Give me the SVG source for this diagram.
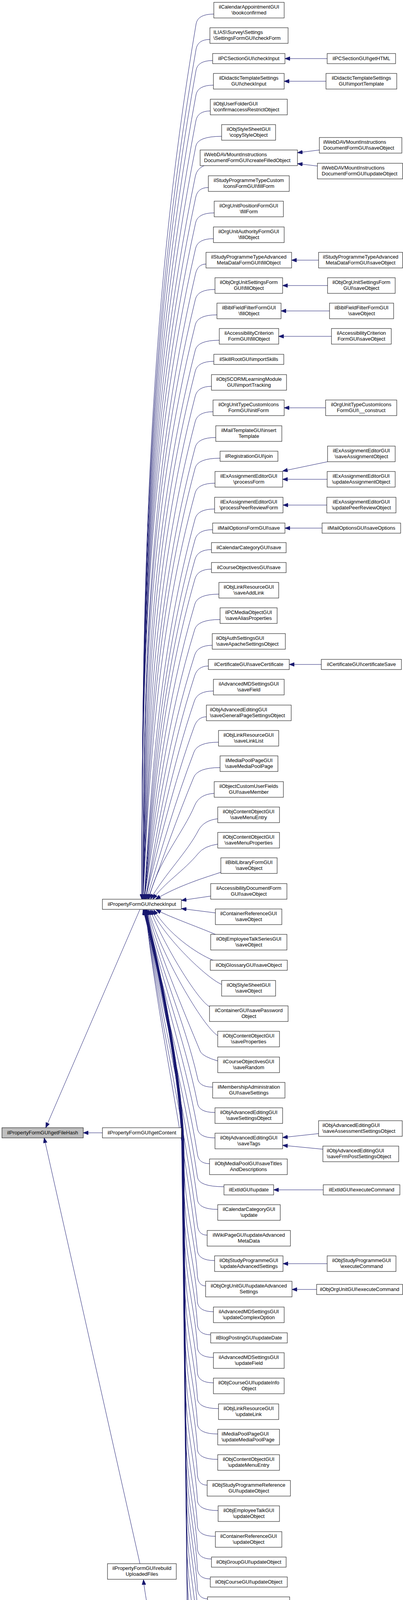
<svg xmlns="http://www.w3.org/2000/svg" width="1031" height="4615" viewBox="0 0 1031 4615">
<style>
.n rect{fill:#fff;stroke:#000;stroke-width:1}
.n text{font-family:"Liberation Sans",Arial,Helvetica,sans-serif;font-size:13px;fill:#000}
.n text.c{text-anchor:middle}
#edges path{fill:none;stroke:#191970;stroke-width:1;marker-end:url(#ah)}
</style>
<defs>
<marker id="ah" markerUnits="userSpaceOnUse" markerWidth="13" markerHeight="10" viewBox="0 0 13 10" refX="13" refY="5" orient="auto"><path d="M0,0 L13,5 L0,10 z" fill="#191970" stroke="#191970" stroke-width="1"/></marker>
</defs>
<rect x="0" y="0" width="1031" height="4615" fill="#fff"/>
<g id="edges">
<path d="M262,2900 L213,2900"/>
<path d="M358,2328 L117,2887"/>
<path d="M358,4003 L113,2913"/>
<path d="M568,4582 C515,4562 450,4440 420,4320 C405,4250 372,4100 367,4044"/>
<path d="M547,36 Q506,36 501.7,61 C374.4,808 363,1556 363,2302"/>
<path d="M537,101 Q506,101 501.6,126 C374.3,851.7 363,1577.3 363,2302"/>
<path d="M544,155 Q506,155 501.5,180 C374.2,887.7 363,1595.3 363,2302"/>
<path d="M546,218 Q506,218 501.4,243 C374.1,929.7 363,1616.3 363,2302"/>
<path d="M538,284 Q506,284 501.2,309 C373.9,973.7 363,1638.3 363,2302"/>
<path d="M567,349 Q506,349 501,374 C373.7,1017 363,1660 363,2302"/>
<path d="M522,424 Q504,432 500,450 C372.7,1067.7 363,1685.3 363,2302"/>
<path d="M533,480 Q506,480 500.7,505 C373.4,1104.3 363,1703.7 363,2302"/>
<path d="M548,545 Q506,545 500.5,570 C373.2,1147.7 363,1725.3 363,2302"/>
<path d="M546,611 Q506,611 500.3,636 C373,1191.7 363,1747.3 363,2302"/>
<path d="M527,676 Q506,676 500.2,701 C375.6,1235 366,1769 366,2302"/>
<path d="M550,741 Q506,741 499.9,766 C375.3,1278.3 366,1790.7 366,2302"/>
<path d="M555,806 Q506,806 499.7,831 C376.9,1321.7 367,1812.3 366,2302"/>
<path d="M561,871 Q506,871 499.7,896 C381.1,1365 369.5,1834 366,2302"/>
<path d="M547,925 Q506,925 499.6,950 C384.6,1401 371.5,1852 366,2302"/>
<path d="M541,989 Q506,989 499.5,1014 C388.6,1443.7 373.8,1873.3 366,2302"/>
<path d="M545,1054 Q506,1054 499.5,1079 C392.8,1487 376.2,1895 366,2302"/>
<path d="M552,1120 Q506,1120 499.4,1145 C397,1531 378.7,1917 366,2302"/>
<path d="M563,1173 Q506,1173 499.3,1198 C400.4,1566.3 380.6,1934.7 366,2302"/>
<path d="M550,1237 Q506,1237 499.2,1262 C404.4,1609 383,1956 366,2302"/>
<path d="M549,1303 Q506,1303 499.2,1328 C410.7,1653 388,1978 369,2302"/>
<path d="M544,1356 Q506,1356 499.1,1381 C413.9,1688.3 389.9,1995.7 369,2302"/>
<path d="M541,1407 Q506,1407 498.9,1432 C416.9,1722.3 391.7,2012.7 369,2302"/>
<path d="M541,1457 Q506,1457 498.8,1482 C420,1755.7 393.5,2029.3 369,2302"/>
<path d="M560,1521 Q506,1521 498.6,1546 C423.9,1798.3 395.7,2050.7 369,2302"/>
<path d="M563,1586 Q506,1586 498.3,1611 C427.7,1841.7 398,2072.3 369,2302"/>
<path d="M543,1652 Q506,1652 498,1677 C431.6,1885.7 400.3,2094.3 369,2302"/>
<path d="M533,1705 Q506,1705 497.9,1730 C436.3,1921 404.4,2112 372,2302"/>
<path d="M546,1769 Q506,1769 497.5,1794 C439.8,1963.7 406.6,2133.3 372,2302"/>
<path d="M528,1835 Q506,1835 496.9,1860 C443.3,2007.7 408.7,2155.3 372,2302"/>
<path d="M559,1900 Q506,1900 496.4,1925 C448,2051 412.8,2177 375,2302"/>
<path d="M563,1965 Q506,1965 495.6,1990 C452.2,2094.3 416.8,2198.7 378,2302"/>
<path d="M548,2031 Q510,2033 498,2062 C470,2130 400,2210 381,2302"/>
<path d="M557,2096 Q522,2100 508,2125 C480,2180 420,2240 385,2302"/>
<path d="M557,2161 Q522,2166 507,2185 C470,2230 420,2260 391,2302"/>
<path d="M565,2233 C530,2245 460,2265 398,2302"/>
<path d="M539,2294 L464,2305"/>
<path d="M551,2337 L464,2326"/>
<path d="M553,2393 C520,2378 440,2350 399,2329"/>
<path d="M547,2459 C500,2440 430,2390 393,2329"/>
<path d="M567,2520 C530,2505 420,2400 388,2329"/>
<path d="M536,2577 C505,2560 420,2420 384,2329"/>
<path d="M557,2651 C520,2630 410,2440 380,2329"/>
<path d="M557,2716 Q520,2705 513,2693 C470,2590 400,2420 377,2329"/>
<path d="M544,2783 Q508,2783 505,2758 C472.6,2615 401.4,2457.7 375.5,2329"/>
<path d="M550,2848 Q508,2848 505,2823 C472.5,2658.3 401,2477.2 375,2329"/>
<path d="M550,2913 Q508,2913 505,2888 C472.4,2701.7 400.6,2496.7 374.5,2329"/>
<path d="M536,2979 Q508,2979 505,2954 C472.3,2745.7 400.2,2516.5 374,2329"/>
<path d="M573,3038 Q508,3038 505,3013 C472.1,2785 399.8,2534.2 373.5,2329"/>
<path d="M557,3096 Q508,3096 505,3071 C472,2823.7 399.4,2551.6 373,2329"/>
<path d="M530,3162 Q508,3162 505,3137 C471.9,2867.7 399,2571.4 372.5,2329"/>
<path d="M549,3227 Q508,3227 505,3202 C471.8,2911 398.8,2590.9 372.2,2329"/>
<path d="M526,3292 Q508,3292 505,3267 C502,3192 474,3092 471,2992 L471,2950 C471,2760 397,2420 372,2329"/>
<path d="M546,3358 Q508,3358 505,3333 C502,3258 474.5,3158 471.5,3058 L470.7,2950 C470.7,2760 396.7,2420 371.7,2329"/>
<path d="M539,3417 Q508,3417 505,3392 C502,3317 474.9,3217 471.9,3117 L470.4,2950 C470.4,2760 396.4,2420 371.4,2329"/>
<path d="M546,3475 Q508,3475 505,3450 C502,3375 475.4,3275 472.4,3175 L470.1,2950 C470.1,2760 396.1,2420 371.1,2329"/>
<path d="M546,3540 Q508,3540 505,3515 C502,3440 475.8,3340 472.8,3240 L469.8,2950 C469.8,2760 395.8,2420 370.8,2329"/>
<path d="M559,3606 Q508,3606 505,3581 C502,3506 476.3,3406 473.3,3306 L469.5,2950 C469.5,2760 395.5,2420 370.5,2329"/>
<path d="M557,3671 Q508,3671 505,3646 C502,3571 476.7,3471 473.7,3371 L469.2,2950 C469.2,2760 395.2,2420 370.2,2329"/>
<path d="M557,3736 Q508,3736 505,3711 C502,3636 477.2,3536 474.2,3436 L468.9,2950 C468.9,2760 394.9,2420 369.9,2329"/>
<path d="M530,3802 Q508,3802 505,3777 C502,3702 477.6,3602 474.6,3502 L468.6,2950 C468.6,2760 394.6,2420 369.6,2329"/>
<path d="M558,3867 Q508,3867 505,3842 C502,3767 478.1,3667 475.1,3567 L468.3,2950 C468.3,2760 394.3,2420 369.3,2329"/>
<path d="M551,3933 Q508,3933 505,3908 C502,3833 478.5,3733 475.5,3633 L468,2950 C468,2760 394,2420 369,2329"/>
<path d="M541,3991 Q508,3991 505,3966 C502,3891 479,3791 476,3691 L467.7,2950 C467.7,2760 393.7,2420 368.7,2329"/>
<path d="M538,4042 Q508,4042 505,4017 C502,3942 479.4,3842 476.4,3742 L467.4,2950 C467.4,2760 393.4,2420 368.4,2329"/>
<path d="M531,4093 Q508,4093 505,4068 C502,3993 479.9,3893 476.9,3793 L467.1,2950 C467.1,2760 393.1,2420 368.1,2329"/>
<path d="M524,4144 Q508,4144 505,4119 C502,4044 480.3,3944 477.3,3844 L466.8,2950 C466.8,2760 392.8,2420 367.8,2329"/>
<path d="M555,4202 Q508,4202 505,4177 C502,4102 480.8,4002 477.8,3902 L466.5,2950 C466.5,2760 392.5,2420 367.5,2329"/>
<path d="M546,4267 Q508,4267 505,4242 C502,4167 481.2,4067 478.2,3967 L466.2,2950 C466.2,2760 392.2,2420 367.2,2329"/>
<path d="M548,4332 Q508,4332 505,4307 C502,4232 481.7,4132 478.7,4032 L465.9,2950 C465.9,2760 391.9,2420 366.9,2329"/>
<path d="M540,4391 Q508,4391 505,4366 C502,4291 482.1,4191 479.1,4091 L465.6,2950 C465.6,2760 391.6,2420 366.6,2329"/>
<path d="M556,4449 Q508,4449 505,4424 C502,4349 482.6,4249 479.6,4149 L465.3,2950 C465.3,2760 391.3,2420 366.3,2329"/>
<path d="M555,4515 Q508,4515 505,4490 C502,4415 483,4315 480,4215 L465,2950 C465,2760 391,2420 366,2329"/>
<path d="M837,150 L729,150"/>
<path d="M834,208 L727,208"/>
<path d="M817,384 L761,391"/>
<path d="M812,425 L761,419"/>
<path d="M815,666 L746,666"/>
<path d="M838,731 L723,731"/>
<path d="M843,796 L719,796"/>
<path d="M848,861 L713,861"/>
<path d="M833,1044 L727,1044"/>
<path d="M838,1182 L723,1206"/>
<path d="M837,1227 L723,1227"/>
<path d="M836,1293 L724,1293"/>
<path d="M824,1352 L729,1352"/>
<path d="M822,1701 L740,1701"/>
<path d="M815,2902 L723,2912"/>
<path d="M826,2942 L723,2932"/>
<path d="M827,3046 L700,3046"/>
<path d="M837,3235 L724,3235"/>
<path d="M810,3301 L747,3301"/>
<path d="M843,4501 L718,4513"/>
<path d="M843,4547 L718,4534"/>
</g>
<g id="n_getFileHash" class="n"><rect x="5" y="2887" width="208" height="26" style="fill:#bfbfbf"/><text class="c" x="109" y="2903.5">ilPropertyFormGUI\getFileHash</text></g>
<g id="n_getContent" class="n"><rect x="262" y="2887" width="202" height="26"/><text class="c" x="363" y="2903.5">ilPropertyFormGUI\getContent</text></g>
<g id="n_checkInput" class="n"><rect x="262" y="2302" width="202" height="26"/><text class="c" x="363" y="2318.5">ilPropertyFormGUI\checkInput</text></g>
<g id="n_rebuildUploadedFiles" class="n"><rect x="275" y="4003" width="176" height="40"/><text class="c" x="363" y="4019"><tspan x="363">ilPropertyFormGUI\rebuild</tspan><tspan x="363" dy="15">UploadedFiles</tspan></text></g>
<g id="n01" class="n"><rect x="547" y="6" width="180" height="40"/><text class="c" x="637" y="22"><tspan x="637">ilCalendarAppointmentGUI</tspan><tspan x="637" dy="15">\bookconfirmed</tspan></text></g>
<g id="n02" class="n"><rect x="537" y="71" width="200" height="40"/><text x="546" y="87"><tspan x="546">ILIAS\Survey\Settings</tspan><tspan x="546" dy="15">\SettingsFormGUI\checkForm</tspan></text></g>
<g id="n03" class="n"><rect x="544" y="137" width="185" height="26"/><text class="c" x="636.5" y="153.5">ilPCSectionGUI\checkInput</text></g>
<g id="n04" class="n"><rect x="546" y="188" width="181" height="40"/><text class="c" x="636.5" y="204"><tspan x="636.5">ilDidacticTemplateSettings</tspan><tspan x="636.5" dy="15">GUI\checkInput</tspan></text></g>
<g id="n05" class="n"><rect x="538" y="254" width="197" height="40"/><text x="546" y="270"><tspan x="546">ilObjUserFolderGUI</tspan><tspan x="546" dy="15">\confirmaccessRestrictObject</tspan></text></g>
<g id="n06" class="n"><rect x="567" y="319" width="138" height="40"/><text class="c" x="636" y="335"><tspan x="636">ilObjStyleSheetGUI</tspan><tspan x="636" dy="15">\copyStyleObject</tspan></text></g>
<g id="n07" class="n"><rect x="512" y="384" width="249" height="40"/><text x="522" y="400"><tspan x="522">ilWebDAVMountInstructions</tspan><tspan x="522" dy="15">DocumentFormGUI\createFilledObject</tspan></text></g>
<g id="n08" class="n"><rect x="533" y="450" width="207" height="40"/><text class="c" x="636.5" y="466"><tspan x="636.5">ilStudyProgrammeTypeCustom</tspan><tspan x="636.5" dy="15">IconsFormGUI\fillForm</tspan></text></g>
<g id="n09" class="n"><rect x="548" y="515" width="177" height="40"/><text class="c" x="636.5" y="531"><tspan x="636.5">ilOrgUnitPositionFormGUI</tspan><tspan x="636.5" dy="15">\fillForm</tspan></text></g>
<g id="n10" class="n"><rect x="546" y="581" width="181" height="40"/><text class="c" x="636.5" y="597"><tspan x="636.5">ilOrgUnitAuthorityFormGUI</tspan><tspan x="636.5" dy="15">\fillObject</tspan></text></g>
<g id="n11" class="n"><rect x="527" y="646" width="219" height="40"/><text class="c" x="636.5" y="662"><tspan x="636.5">ilStudyProgrammeTypeAdvanced</tspan><tspan x="636.5" dy="15">MetaDataFormGUI\fillObject</tspan></text></g>
<g id="n12" class="n"><rect x="550" y="711" width="173" height="40"/><text class="c" x="636.5" y="727"><tspan x="636.5">ilObjOrgUnitSettingsForm</tspan><tspan x="636.5" dy="15">GUI\fillObject</tspan></text></g>
<g id="n13" class="n"><rect x="555" y="776" width="164" height="40"/><text class="c" x="637" y="792"><tspan x="637">ilBiblFieldFilterFormGUI</tspan><tspan x="637" dy="15">\fillObject</tspan></text></g>
<g id="n14" class="n"><rect x="561" y="841" width="152" height="40"/><text class="c" x="637" y="857"><tspan x="637">ilAccessibilityCriterion</tspan><tspan x="637" dy="15">FormGUI\fillObject</tspan></text></g>
<g id="n15" class="n"><rect x="547" y="907" width="179" height="26"/><text class="c" x="636.5" y="923.5">ilSkillRootGUI\importSkills</text></g>
<g id="n16" class="n"><rect x="541" y="959" width="192" height="40"/><text class="c" x="637" y="975"><tspan x="637">ilObjSCORMLearningModule</tspan><tspan x="637" dy="15">GUI\importTracking</tspan></text></g>
<g id="n17" class="n"><rect x="545" y="1024" width="182" height="40"/><text class="c" x="636" y="1040"><tspan x="636">ilOrgUnitTypeCustomIcons</tspan><tspan x="636" dy="15">FormGUI\initForm</tspan></text></g>
<g id="n18" class="n"><rect x="552" y="1090" width="169" height="40"/><text class="c" x="636.5" y="1106"><tspan x="636.5">ilMailTemplateGUI\insert</tspan><tspan x="636.5" dy="15">Template</tspan></text></g>
<g id="n19" class="n"><rect x="563" y="1155" width="148" height="26"/><text class="c" x="637" y="1171.5">ilRegistrationGUI\join</text></g>
<g id="n20" class="n"><rect x="550" y="1207" width="173" height="40"/><text class="c" x="636.5" y="1223"><tspan x="636.5">ilExAssignmentEditorGUI</tspan><tspan x="636.5" dy="15">\processForm</tspan></text></g>
<g id="n21" class="n"><rect x="549" y="1273" width="175" height="40"/><text class="c" x="636.5" y="1289"><tspan x="636.5">ilExAssignmentEditorGUI</tspan><tspan x="636.5" dy="15">\processPeerReviewForm</tspan></text></g>
<g id="n22" class="n"><rect x="544" y="1339" width="185" height="26"/><text class="c" x="636.5" y="1355.5">ilMailOptionsFormGUI\save</text></g>
<g id="n23" class="n"><rect x="541" y="1389" width="191" height="26"/><text class="c" x="636.5" y="1405.5">ilCalendarCategoryGUI\save</text></g>
<g id="n24" class="n"><rect x="541" y="1440" width="191" height="26"/><text class="c" x="636.5" y="1456.5">ilCourseObjectivesGUI\save</text></g>
<g id="n25" class="n"><rect x="560" y="1491" width="153" height="40"/><text class="c" x="636.5" y="1507"><tspan x="636.5">ilObjLinkResourceGUI</tspan><tspan x="636.5" dy="15">\saveAddLink</tspan></text></g>
<g id="n26" class="n"><rect x="563" y="1556" width="146" height="40"/><text class="c" x="636" y="1572"><tspan x="636">ilPCMediaObjectGUI</tspan><tspan x="636" dy="15">\saveAliasProperties</tspan></text></g>
<g id="n27" class="n"><rect x="543" y="1622" width="187" height="40"/><text x="553" y="1638"><tspan x="553">ilObjAuthSettingsGUI</tspan><tspan x="553" dy="15">\saveApacheSettingsObject</tspan></text></g>
<g id="n28" class="n"><rect x="533" y="1688" width="207" height="26"/><text class="c" x="636.5" y="1704.5">ilCertificateGUI\saveCertificate</text></g>
<g id="n29" class="n"><rect x="546" y="1739" width="181" height="40"/><text class="c" x="636.5" y="1755"><tspan x="636.5">ilAdvancedMDSettingsGUI</tspan><tspan x="636.5" dy="15">\saveField</tspan></text></g>
<g id="n30" class="n"><rect x="528" y="1805" width="217" height="40"/><text x="537" y="1821"><tspan x="537">ilObjAdvancedEditingGUI</tspan><tspan x="537" dy="15">\saveGeneralPageSettingsObject</tspan></text></g>
<g id="n31" class="n"><rect x="559" y="1870" width="154" height="40"/><text class="c" x="636" y="1886"><tspan x="636">ilObjLinkResourceGUI</tspan><tspan x="636" dy="15">\saveLinkList</tspan></text></g>
<g id="n32" class="n"><rect x="563" y="1935" width="148" height="40"/><text class="c" x="637" y="1951"><tspan x="637">ilMediaPoolPageGUI</tspan><tspan x="637" dy="15">\saveMediaPoolPage</tspan></text></g>
<g id="n33" class="n"><rect x="548" y="2001" width="177" height="40"/><text class="c" x="636.5" y="2017"><tspan x="636.5">ilObjectCustomUserFields</tspan><tspan x="636.5" dy="15">GUI\saveMember</tspan></text></g>
<g id="n34" class="n"><rect x="557" y="2066" width="158" height="40"/><text class="c" x="636" y="2082"><tspan x="636">ilObjContentObjectGUI</tspan><tspan x="636" dy="15">\saveMenuEntry</tspan></text></g>
<g id="n35" class="n"><rect x="557" y="2131" width="158" height="40"/><text class="c" x="636" y="2147"><tspan x="636">ilObjContentObjectGUI</tspan><tspan x="636" dy="15">\saveMenuProperties</tspan></text></g>
<g id="n36" class="n"><rect x="565" y="2196" width="144" height="40"/><text class="c" x="637" y="2212"><tspan x="637">ilBiblLibraryFormGUI</tspan><tspan x="637" dy="15">\saveObject</tspan></text></g>
<g id="n37" class="n"><rect x="539" y="2262" width="195" height="40"/><text class="c" x="636.5" y="2278"><tspan x="636.5">ilAccessibilityDocumentForm</tspan><tspan x="636.5" dy="15">GUI\saveObject</tspan></text></g>
<g id="n38" class="n"><rect x="551" y="2327" width="170" height="40"/><text class="c" x="636" y="2343"><tspan x="636">ilContainerReferenceGUI</tspan><tspan x="636" dy="15">\saveObject</tspan></text></g>
<g id="n39" class="n"><rect x="539" y="2392" width="195" height="40"/><text class="c" x="636.5" y="2408"><tspan x="636.5">ilObjEmployeeTalkSeriesGUI</tspan><tspan x="636.5" dy="15">\saveObject</tspan></text></g>
<g id="n40" class="n"><rect x="538" y="2458" width="197" height="26"/><text class="c" x="636.5" y="2474.5">ilObjGlossaryGUI\saveObject</text></g>
<g id="n41" class="n"><rect x="567" y="2510" width="138" height="40"/><text class="c" x="636" y="2526"><tspan x="636">ilObjStyleSheetGUI</tspan><tspan x="636" dy="15">\saveObject</tspan></text></g>
<g id="n42" class="n"><rect x="536" y="2575" width="201" height="40"/><text class="c" x="636.5" y="2591"><tspan x="636.5">ilContainerGUI\savePassword</tspan><tspan x="636.5" dy="15">Object</tspan></text></g>
<g id="n43" class="n"><rect x="557" y="2640" width="158" height="40"/><text class="c" x="636" y="2656"><tspan x="636">ilObjContentObjectGUI</tspan><tspan x="636" dy="15">\saveProperties</tspan></text></g>
<g id="n44" class="n"><rect x="557" y="2706" width="158" height="40"/><text class="c" x="636" y="2722"><tspan x="636">ilCourseObjectivesGUI</tspan><tspan x="636" dy="15">\saveRandom</tspan></text></g>
<g id="n45" class="n"><rect x="544" y="2771" width="185" height="40"/><text class="c" x="636.5" y="2787"><tspan x="636.5">ilMembershipAdministration</tspan><tspan x="636.5" dy="15">GUI\saveSettings</tspan></text></g>
<g id="n46" class="n"><rect x="550" y="2836" width="173" height="40"/><text class="c" x="636.5" y="2852"><tspan x="636.5">ilObjAdvancedEditingGUI</tspan><tspan x="636.5" dy="15">\saveSettingsObject</tspan></text></g>
<g id="n47" class="n"><rect x="550" y="2901" width="173" height="40"/><text class="c" x="636.5" y="2917"><tspan x="636.5">ilObjAdvancedEditingGUI</tspan><tspan x="636.5" dy="15">\saveTags</tspan></text></g>
<g id="n48" class="n"><rect x="536" y="2967" width="199" height="40"/><text class="c" x="635.5" y="2983"><tspan x="635.5">ilObjMediaPoolGUI\saveTitles</tspan><tspan x="635.5" dy="15">AndDescriptions</tspan></text></g>
<g id="n49" class="n"><rect x="573" y="3033" width="127" height="26"/><text class="c" x="636.5" y="3049.5">ilExtIdGUI\update</text></g>
<g id="n50" class="n"><rect x="557" y="3084" width="160" height="40"/><text class="c" x="637" y="3100"><tspan x="637">ilCalendarCategoryGUI</tspan><tspan x="637" dy="15">\update</tspan></text></g>
<g id="n51" class="n"><rect x="530" y="3150" width="213" height="40"/><text class="c" x="636.5" y="3166"><tspan x="636.5">ilWikiPageGUI\updateAdvanced</tspan><tspan x="636.5" dy="15">MetaData</tspan></text></g>
<g id="n52" class="n"><rect x="549" y="3215" width="175" height="40"/><text class="c" x="636.5" y="3231"><tspan x="636.5">ilObjStudyProgrammeGUI</tspan><tspan x="636.5" dy="15">\updateAdvancedSettings</tspan></text></g>
<g id="n53" class="n"><rect x="526" y="3280" width="221" height="40"/><text class="c" x="636.5" y="3296"><tspan x="636.5">ilObjOrgUnitGUI\updateAdvanced</tspan><tspan x="636.5" dy="15">Settings</tspan></text></g>
<g id="n54" class="n"><rect x="546" y="3346" width="181" height="40"/><text class="c" x="636.5" y="3362"><tspan x="636.5">ilAdvancedMDSettingsGUI</tspan><tspan x="636.5" dy="15">\updateComplexOption</tspan></text></g>
<g id="n55" class="n"><rect x="539" y="3412" width="196" height="26"/><text class="c" x="637" y="3428.5">ilBlogPostingGUI\updateDate</text></g>
<g id="n56" class="n"><rect x="546" y="3463" width="181" height="40"/><text class="c" x="636.5" y="3479"><tspan x="636.5">ilAdvancedMDSettingsGUI</tspan><tspan x="636.5" dy="15">\updateField</tspan></text></g>
<g id="n57" class="n"><rect x="546" y="3528" width="181" height="40"/><text class="c" x="636.5" y="3544"><tspan x="636.5">ilObjCourseGUI\updateInfo</tspan><tspan x="636.5" dy="15">Object</tspan></text></g>
<g id="n58" class="n"><rect x="559" y="3594" width="154" height="40"/><text class="c" x="636" y="3610"><tspan x="636">ilObjLinkResourceGUI</tspan><tspan x="636" dy="15">\updateLink</tspan></text></g>
<g id="n59" class="n"><rect x="557" y="3659" width="158" height="40"/><text x="567" y="3675"><tspan x="567">ilMediaPoolPageGUI</tspan><tspan x="567" dy="15">\updateMediaPoolPage</tspan></text></g>
<g id="n60" class="n"><rect x="557" y="3724" width="158" height="40"/><text class="c" x="636" y="3740"><tspan x="636">ilObjContentObjectGUI</tspan><tspan x="636" dy="15">\updateMenuEntry</tspan></text></g>
<g id="n61" class="n"><rect x="530" y="3790" width="213" height="40"/><text class="c" x="636.5" y="3806"><tspan x="636.5">ilObjStudyProgrammeReference</tspan><tspan x="636.5" dy="15">GUI\updateObject</tspan></text></g>
<g id="n62" class="n"><rect x="558" y="3855" width="157" height="40"/><text class="c" x="636.5" y="3871"><tspan x="636.5">ilObjEmployeeTalkGUI</tspan><tspan x="636.5" dy="15">\updateObject</tspan></text></g>
<g id="n63" class="n"><rect x="551" y="3921" width="170" height="40"/><text class="c" x="636" y="3937"><tspan x="636">ilContainerReferenceGUI</tspan><tspan x="636" dy="15">\updateObject</tspan></text></g>
<g id="n64" class="n"><rect x="541" y="3986" width="191" height="26"/><text class="c" x="636.5" y="4002.5">ilObjGroupGUI\updateObject</text></g>
<g id="n65" class="n"><rect x="538" y="4037" width="197" height="26"/><text class="c" x="636.5" y="4053.5">ilObjCourseGUI\updateObject</text></g>
<g id="n66" class="n"><rect x="531" y="4088" width="210" height="26"/><text class="c" x="636" y="4104.5">ilObjCategoryGUI\updateObject</text></g>
<g id="n67" class="n"><rect x="524" y="4139" width="225" height="26"/><text class="c" x="636.5" y="4155.5">ilPageLayoutGUI\updateProperties</text></g>
<g id="n68" class="n"><rect x="555" y="4190" width="162" height="40"/><text class="c" x="636" y="4206"><tspan x="636">ilConsultationHoursGUI</tspan><tspan x="636" dy="15">\updateSettings</tspan></text></g>
<g id="n69" class="n"><rect x="546" y="4255" width="181" height="40"/><text class="c" x="636.5" y="4271"><tspan x="636.5">ilAdvancedMDSettingsGUI</tspan><tspan x="636.5" dy="15">\updateSubstitutions</tspan></text></g>
<g id="n70" class="n"><rect x="548" y="4320" width="177" height="40"/><text class="c" x="636.5" y="4336"><tspan x="636.5">ilMailTemplateGUI\update</tspan><tspan x="636.5" dy="15">Template</tspan></text></g>
<g id="n71" class="n"><rect x="540" y="4386" width="193" height="26"/><text class="c" x="636.5" y="4402.5">ilBlogPostingGUI\updateTitle</text></g>
<g id="n72" class="n"><rect x="556" y="4437" width="160" height="40"/><text class="c" x="636" y="4453"><tspan x="636">ilCalendarCategoryGUI</tspan><tspan x="636" dy="15">\uploadAppointments</tspan></text></g>
<g id="n73" class="n"><rect x="555" y="4503" width="163" height="40"/><text class="c" x="636.5" y="4519"><tspan x="636.5">ilCustomUserFieldsGUI</tspan><tspan x="636.5" dy="15">\validateForm</tspan></text></g>
<g id="n74" class="n"><rect x="568" y="4568" width="137" height="40"/><text class="c" x="636.5" y="4584"><tspan x="636.5">ilPropertyFormGUI\</tspan><tspan x="636.5" dy="15">__construct</tspan></text></g>
<g id="m01" class="n"><rect x="837" y="137" width="175" height="26"/><text class="c" x="924.5" y="153.5">ilPCSectionGUI\getHTML</text></g>
<g id="m02" class="n"><rect x="834" y="188" width="181" height="40"/><text class="c" x="924.5" y="204"><tspan x="924.5">ilDidacticTemplateSettings</tspan><tspan x="924.5" dy="15">GUI\importTemplate</tspan></text></g>
<g id="m03" class="n"><rect x="817" y="352" width="211" height="40"/><text x="827" y="368"><tspan x="827">ilWebDAVMountInstructions</tspan><tspan x="827" dy="15">DocumentFormGUI\saveObject</tspan></text></g>
<g id="m04" class="n"><rect x="812" y="418" width="218" height="40"/><text x="823" y="434"><tspan x="823">ilWebDAVMountInstructions</tspan><tspan x="823" dy="15">DocumentFormGUI\updateObject</tspan></text></g>
<g id="m05" class="n"><rect x="815" y="646" width="215" height="40"/><text class="c" x="922.5" y="662"><tspan x="922.5">ilStudyProgrammeTypeAdvanced</tspan><tspan x="922.5" dy="15">MetaDataFormGUI\saveObject</tspan></text></g>
<g id="m06" class="n"><rect x="838" y="711" width="173" height="40"/><text class="c" x="924.5" y="727"><tspan x="924.5">ilObjOrgUnitSettingsForm</tspan><tspan x="924.5" dy="15">GUI\saveObject</tspan></text></g>
<g id="m07" class="n"><rect x="843" y="776" width="164" height="40"/><text class="c" x="925" y="792"><tspan x="925">ilBiblFieldFilterFormGUI</tspan><tspan x="925" dy="15">\saveObject</tspan></text></g>
<g id="m08" class="n"><rect x="848" y="841" width="153" height="40"/><text class="c" x="924.5" y="857"><tspan x="924.5">ilAccessibilityCriterion</tspan><tspan x="924.5" dy="15">FormGUI\saveObject</tspan></text></g>
<g id="m09" class="n"><rect x="833" y="1024" width="182" height="40"/><text class="c" x="924" y="1040"><tspan x="924">ilOrgUnitTypeCustomIcons</tspan><tspan x="924" dy="15">FormGUI\__construct</tspan></text></g>
<g id="m10" class="n"><rect x="838" y="1142" width="173" height="40"/><text class="c" x="924.5" y="1158"><tspan x="924.5">ilExAssignmentEditorGUI</tspan><tspan x="924.5" dy="15">\saveAssignmentObject</tspan></text></g>
<g id="m11" class="n"><rect x="837" y="1207" width="174" height="40"/><text class="c" x="924" y="1223"><tspan x="924">ilExAssignmentEditorGUI</tspan><tspan x="924" dy="15">\updateAssignmentObject</tspan></text></g>
<g id="m12" class="n"><rect x="836" y="1273" width="177" height="40"/><text class="c" x="924.5" y="1289"><tspan x="924.5">ilExAssignmentEditorGUI</tspan><tspan x="924.5" dy="15">\updatePeerReviewObject</tspan></text></g>
<g id="m13" class="n"><rect x="824" y="1339" width="201" height="26"/><text class="c" x="924.5" y="1355.5">ilMailOptionsGUI\saveOptions</text></g>
<g id="m14" class="n"><rect x="822" y="1688" width="205" height="26"/><text class="c" x="924.5" y="1704.5">ilCertificateGUI\certificateSave</text></g>
<g id="m15" class="n"><rect x="815" y="2869" width="214" height="40"/><text x="825" y="2885"><tspan x="825">ilObjAdvancedEditingGUI</tspan><tspan x="825" dy="15">\saveAssessmentSettingsObject</tspan></text></g>
<g id="m16" class="n"><rect x="826" y="2934" width="194" height="40"/><text x="836" y="2950"><tspan x="836">ilObjAdvancedEditingGUI</tspan><tspan x="836" dy="15">\saveFrmPostSettingsObject</tspan></text></g>
<g id="m17" class="n"><rect x="827" y="3033" width="196" height="26"/><text class="c" x="925" y="3049.5">ilExtIdGUI\executeCommand</text></g>
<g id="m18" class="n"><rect x="837" y="3215" width="176" height="40"/><text class="c" x="925" y="3231"><tspan x="925">ilObjStudyProgrammeGUI</tspan><tspan x="925" dy="15">\executeCommand</tspan></text></g>
<g id="m19" class="n"><rect x="810" y="3288" width="220" height="26"/><text class="c" x="920" y="3304.5">ilObjOrgUnitGUI\executeCommand</text></g>
<g id="m20" class="n"><rect x="843" y="4471" width="164" height="40"/><text class="c" x="925" y="4487"><tspan x="925">ilCustomUserFieldsGUI</tspan><tspan x="925" dy="15">\create</tspan></text></g>
<g id="m21" class="n"><rect x="843" y="4536" width="164" height="40"/><text class="c" x="925" y="4552"><tspan x="925">ilCustomUserFieldsGUI</tspan><tspan x="925" dy="15">\update</tspan></text></g>
</svg>
